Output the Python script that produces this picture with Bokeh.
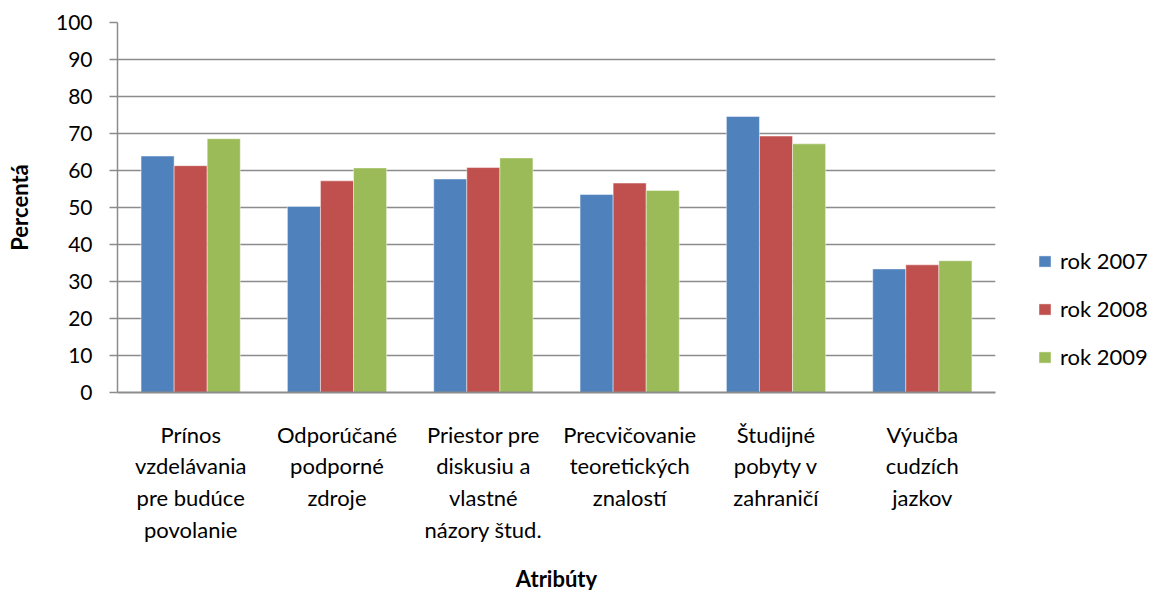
from bokeh.plotting import figure
from bokeh.models import FactorRange, Legend, LegendItem, ColumnDataSource, Range1d, FixedTicker
from bokeh.transform import dodge
from bokeh.embed import file_html
from bokeh.resources import INLINE

categories = [
    "Prínos\nvzdelávania\npre budúce\npovolanie",
    "Odporúčané\npodporné\nzdroje",
    "Priestor pre\ndiskusiu a\nvlastné\nnázory štud.",
    "Precvičovanie\nteoretických\nznalostí",
    "Študijné\npobyty v\nzahraničí",
    "Výučba\ncudzích\njazkov",
]
series_names = ["rok 2007", "rok 2008", "rok 2009"]
y2007 = [63.9, 50.3, 57.7, 53.5, 74.6, 33.4]
y2008 = [61.3, 57.2, 60.8, 56.6, 69.3, 34.5]
y2009 = [68.6, 60.7, 63.4, 54.6, 67.2, 35.6]
y_ticks = [0, 10, 20, 30, 40, 50, 60, 70, 80, 90, 100]

colors = ["#4F81BD", "#C0504D", "#9BBB59"]
FONT = "Lato"

src = ColumnDataSource(dict(cat=categories, y2007=y2007, y2008=y2008, y2009=y2009))

p = figure(
    x_range=FactorRange(*categories, range_padding=0.0),
    y_range=Range1d(0, 100),
    frame_width=878, frame_height=370,
    output_backend="svg", toolbar_location=None,
    min_border_left=117, min_border_right=150, min_border_top=22, min_border_bottom=191,
)

bw = 0.226
renderers = []
for i, (col, c) in enumerate(zip(["y2007", "y2008", "y2009"], colors)):
    r = p.vbar(x=dodge("cat", (i - 1) * bw, range=p.x_range), top=col, width=bw, source=src,
               fill_color=c, line_color="white", line_alpha=0.45, line_width=1)
    renderers.append(r)

legend = Legend(items=[LegendItem(label=n, renderers=[r]) for n, r in zip(series_names, renderers)],
                location=(42, 22), glyph_width=15, glyph_height=14, label_text_font_size="22px",
                label_text_font=FONT, label_standoff=8, spacing=21, padding=0, margin=0,
                label_text_color="black",
                border_line_color=None, background_fill_alpha=0)
p.add_layout(legend, "right")

p.outline_line_color = None
p.xgrid.grid_line_color = None
p.ygrid.grid_line_color = "#8C8C8C"
p.ygrid.grid_line_width = 1.5

p.yaxis.ticker = FixedTicker(ticks=y_ticks)
p.yaxis.minor_tick_line_color = None
p.yaxis.major_tick_in = 0
p.yaxis.major_tick_out = 8
p.yaxis.axis_line_color = "#8C8C8C"
p.yaxis.major_tick_line_color = "#8C8C8C"
p.yaxis.axis_line_width = 1.5
p.yaxis.major_tick_line_width = 1.5
p.yaxis.major_label_text_font = FONT
p.yaxis.major_label_text_font_size = "21px"
p.yaxis.major_label_text_color = "black"
p.yaxis.major_label_standoff = 17
p.yaxis.axis_label = "Percentá"
p.yaxis.axis_label_text_font = FONT
p.yaxis.axis_label_text_font_style = "bold"
p.yaxis.axis_label_text_font_size = "22px"
p.yaxis.axis_label_text_color = "black"
p.yaxis.axis_label_standoff = 20

p.xaxis.axis_line_color = "#8C8C8C"
p.xaxis.axis_line_width = 2
p.xaxis.major_tick_line_color = None
p.xaxis.minor_tick_line_color = None
p.xaxis.major_label_text_font = FONT
p.xaxis.major_label_text_font_size = "22px"
p.xaxis.major_label_text_color = "black"
p.xaxis.major_label_text_line_height = 1.174
p.xaxis.major_label_standoff = 22
p.xaxis.axis_label = "Atribúty"
p.xaxis.axis_label_text_font = FONT
p.xaxis.axis_label_text_font_style = "bold"
p.xaxis.axis_label_text_font_size = "22px"
p.xaxis.axis_label_text_color = "black"
p.xaxis.axis_label_standoff = 19

open("out.html", "w").write(file_html(p, INLINE))
